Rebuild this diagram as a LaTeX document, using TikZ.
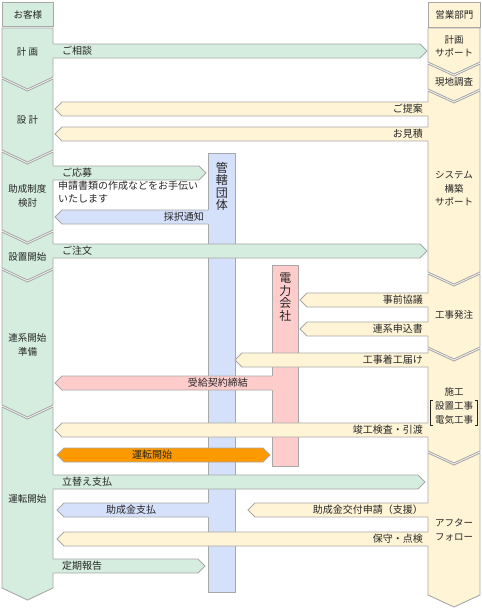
\documentclass[tikz,border=0pt]{standalone}
\usepackage{fontspec}
\setmainfont{Noto Sans CJK JP}
\usetikzlibrary{positioning}

\definecolor{flowgreen}{RGB}{213,237,222}
\definecolor{flowyellow}{RGB}{255,244,214}
\definecolor{flowblue}{RGB}{213,224,250}
\definecolor{flowpink}{RGB}{255,204,204}
\definecolor{floworange}{RGB}{255,153,0}
\definecolor{flowline}{RGB}{168,168,168}

\tikzset{
    edge/.style={draw=flowline, line width=0.9pt, line join=miter},
    lbl/.style={font=\fontsize{10}{13}\selectfont, inner sep=0pt, text=black!85},
    phase/.style={font=\fontsize{9.5}{13.5}\selectfont, align=center, inner sep=0pt, text=black!85},
    vert/.style={font=\fontsize{12}{12.5}\selectfont, align=center, inner sep=0pt, text=black!85}
}

% one stage of a lane: x1, x2, top, bottom, notch, fill
\newcommand{\lanestage}[6]{%
    \filldraw[edge, fill=#6] (#1,#3) -- ({(#1+#2)/2},{#3+#5}) -- (#2,#3) -- (#2,#4)
        -- ({(#1+#2)/2},{#4+12}) -- (#1,#4) -- cycle;}
% band arrows: from x, tip x, top y, fill
\newcommand{\bandright}[4]{%
    \fill[#4] ({#1-1},#3) -- ({#2-7},#3) -- (#2,{#3+7}) -- ({#2-7},{#3+14}) -- ({#1-1},{#3+14}) -- cycle;
    \draw[edge] (#1,#3) -- ({#2-7},#3) -- (#2,{#3+7}) -- ({#2-7},{#3+14}) -- (#1,{#3+14});}
\newcommand{\bandleft}[4]{%
    \fill[#4] ({#1+1},#3) -- ({#2+7},#3) -- (#2,{#3+7}) -- ({#2+7},{#3+14}) -- ({#1+1},{#3+14}) -- cycle;
    \draw[edge] (#1,#3) -- ({#2+7},#3) -- (#2,{#3+7}) -- ({#2+7},{#3+14}) -- (#1,{#3+14});}

\begin{document}
\begin{tikzpicture}[x=1pt, y=-1pt]
    \useasboundingbox (0,0) rectangle (482,611);

    \node[edge, fill=flowgreen, phase, minimum width=51, minimum height=24, anchor=north west] (kyaku) at (2,2) {お客様};
    \node[edge, fill=flowyellow, phase, minimum width=52, minimum height=25, anchor=north west] (eigyo) at (428,2) {営業部門};

    \lanestage{2}{53}{28}{77}{0}{flowgreen}
    \lanestage{2}{53}{79}{150}{12}{flowgreen}
    \lanestage{2}{53}{152}{230}{12}{flowgreen}
    \lanestage{2}{53}{232}{268}{12}{flowgreen}
    \lanestage{2}{53}{270}{405}{12}{flowgreen}
    \lanestage{2}{53}{407}{588}{12}{flowgreen}

    \lanestage{428}{480}{28}{62}{0}{flowyellow}
    \lanestage{428}{480}{64}{89}{12}{flowyellow}
    \lanestage{428}{480}{91}{272}{12}{flowyellow}
    \lanestage{428}{480}{274}{347}{12}{flowyellow}
    \lanestage{428}{480}{349}{451}{12}{flowyellow}
    \lanestage{428}{480}{453}{595}{12}{flowyellow}

    \node[phase] (keikaku) at (27.5,52) {計 画};
    \node[phase] (sekkei) at (27.5,120) {設 計};
    \node[phase] (josei) at (27.5,196) {助成制度\\検討};
    \node[phase] (setchi) at (27.5,257) {設置開始};
    \node[phase] (keito) at (27.5,345) {連系開始\\準備};
    \node[phase] (unten) at (27.5,499) {運転開始};

    \node[phase] (support) at (454,46) {計画\\サポート};
    \node[phase] (genchi) at (454,82) {現地調査};
    \node[phase] (system) at (454,189) {システム\\構築\\サポート};
    \node[phase] (hatchu) at (454,315) {工事発注};
    \node[phase] (seko) at (454,392) {施工};
    \node[phase] (koji) at (454,413) {設置工事\\電気工事};
    \draw[black!85, line width=0.7pt] ([xshift=3pt]koji.north west) ++(-5,-1) -- ++(-2,0) |- ([xshift=-2pt,yshift=-1pt]koji.south west);
    \draw[black!85, line width=0.7pt] ([xshift=-3pt]koji.north east) ++(5,-1) -- ++(2,0) |- ([xshift=2pt,yshift=-1pt]koji.south east);
    \node[phase] (after) at (454,530) {アフター\\フォロー};

    \node[edge, fill=flowblue, minimum width=27, minimum height=439, anchor=north west] (kankatsu) at (208,153) {};
    \node[edge, fill=flowpink, minimum width=26, minimum height=201, anchor=north west] (denryoku) at (272,265) {};
    \node[vert, below=9pt of kankatsu.north] (kankatsutxt) {管\\轄\\団\\体};
    \node[vert, below=8pt of denryoku.north] (denryokutxt) {電\\力\\会\\社};

    \bandright{53}{427}{44}{flowgreen}
    \bandleft{428}{55}{102}{flowyellow}
    \bandleft{428}{55}{127}{flowyellow}
    \bandright{53}{206}{166}{flowgreen}
    \bandleft{208}{55}{210}{flowblue}
    \bandright{53}{427}{244}{flowgreen}
    \bandleft{428}{300}{293}{flowyellow}
    \bandleft{428}{300}{322}{flowyellow}
    \bandleft{428}{235}{353}{flowyellow}
    \bandleft{272}{55}{376}{flowpink}
    \bandleft{428}{55}{423}{flowyellow}
    \filldraw[edge, fill=floworange] (57,455) -- (64,448) -- (263,448) -- (270,455) -- (263,462) -- (64,462) -- cycle;
    \bandright{53}{425}{475}{flowgreen}
    \bandleft{208}{57}{503}{flowblue}
    \bandleft{428}{248}{503}{flowyellow}
    \bandleft{428}{57}{532}{flowyellow}
    \bandright{53}{205}{559}{flowgreen}

    \node[lbl, anchor=west] (soudan) at (62,51) {ご相談};
    \node[lbl, anchor=east] (teian) at (423,109) {ご提案};
    \node[lbl, anchor=east] (mitsumori) at (423,134) {お見積};
    \node[lbl, anchor=west] (oubo) at (62,173) {ご応募};
    \node[lbl, anchor=north west, align=left] (tetsudai) at (58,181) {申請書類の作成などをお手伝い\\いたします};
    \node[lbl, anchor=east] (saitaku) at (204,217) {採択通知};
    \node[lbl, anchor=west] (chumon) at (62,251) {ご注文};
    \node[lbl, anchor=east] (kyogi) at (423,300) {事前協議};
    \node[lbl, anchor=east] (moushikomi) at (423,329) {連系申込書};
    \node[lbl, anchor=east] (chakko) at (423,360) {工事着工届け};
    \node[lbl, anchor=east] (keiyaku) at (248,383) {受給契約締結};
    \node[lbl, anchor=east] (kensa) at (423,430) {竣工検査・引渡};
    \node[lbl] (kaishi) at (152,455) {運転開始};
    \node[lbl, anchor=west] (tatekae) at (62,482) {立替え支払};
    \node[lbl] (shiharai) at (131,510) {助成金支払};
    \node[lbl, anchor=east] (shinsei) at (423,510) {助成金交付申請（支援）};
    \node[lbl, anchor=east] (hoshu) at (423,539) {保守・点検};
    \node[lbl, anchor=west] (houkoku) at (62,566) {定期報告};
\end{tikzpicture}
\end{document}
